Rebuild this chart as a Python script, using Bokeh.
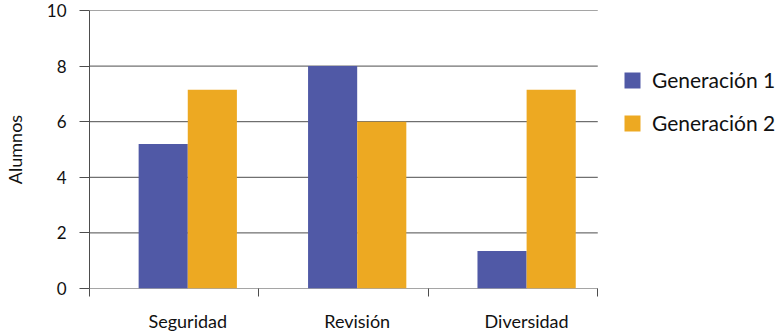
from bokeh.plotting import figure
from bokeh.models import Range1d, FixedTicker, Legend, LegendItem, ColumnDataSource
from bokeh.embed import file_html
from bokeh.resources import INLINE

categories = ["Seguridad", "Revisión", "Diversidad"]
gen1 = [5.2, 8.0, 1.35]
gen2 = [7.15, 6.0, 7.15]
series_names = ["Generación 1", "Generación 2"]
colors = ["#5059a6", "#eda922"]
y_ticks = [0, 2, 4, 6, 8, 10]

FONT = "Lato"
GRID = "#4d4d4d"
TXT = "#111111"

W, H = 783, 334
LEFT, TOP, BOTTOM = 88, 10, 44
PLOT_W = 509  # pixel width of the category area
n = len(categories)
x_end = n * (W - LEFT) / PLOT_W

p = figure(width=W, height=H, output_backend="svg", toolbar_location=None,
           x_range=Range1d(0, x_end), y_range=Range1d(0, 10),
           min_border_left=LEFT, min_border_right=0, min_border_top=TOP, min_border_bottom=BOTTOM)
p.outline_line_color = None
p.xgrid.grid_line_color = None
p.ygrid.grid_line_color = None

# horizontal grid lines limited to the category area
p.segment(x0=[0] * len(y_ticks), x1=[n] * len(y_ticks), y0=y_ticks, y1=y_ticks,
          line_color=GRID, line_width=1)

offset = 0.58
bw = 0.29
idx = list(range(n))
src = ColumnDataSource(dict(
    x1=[i + offset - bw / 2 for i in idx],
    x2=[i + offset + bw / 2 for i in idx],
    g1=gen1, g2=gen2))
r1 = p.vbar(x="x1", top="g1", width=bw, source=src, color=colors[0], line_color=None)
r2 = p.vbar(x="x2", top="g2", width=bw, source=src, color=colors[1], line_color=None)

# x axis
p.xaxis.ticker = FixedTicker(ticks=[i + offset for i in idx], minor_ticks=list(range(n + 1)))
p.xaxis.major_label_overrides = {i + offset: c for i, c in zip(idx, categories)}
p.xaxis.major_tick_out = 0
p.xaxis.major_tick_in = 0
p.xaxis.minor_tick_out = 8
p.xaxis.minor_tick_in = 0
p.xaxis.minor_tick_line_color = GRID
p.xaxis.axis_line_color = None
p.xaxis.major_label_standoff = 13
p.xaxis.major_label_text_font = FONT
p.xaxis.major_label_text_font_size = "18px"
p.xaxis.major_label_text_color = TXT

# y axis
p.yaxis.ticker = FixedTicker(ticks=y_ticks, minor_ticks=[])
p.yaxis.major_tick_out = 10
p.yaxis.major_tick_in = 0
p.yaxis.major_tick_line_color = GRID
p.yaxis.axis_line_color = GRID
p.yaxis.major_label_standoff = 13
p.yaxis.major_label_text_font = FONT
p.yaxis.major_label_text_font_size = "17px"
p.yaxis.major_label_text_color = TXT
p.yaxis.axis_label = "Alumnos"
p.yaxis.axis_label_text_font = FONT
p.yaxis.axis_label_text_font_size = "18px"
p.yaxis.axis_label_text_font_style = "normal"
p.yaxis.axis_label_text_color = TXT
p.yaxis.axis_label_standoff = 18

legend = Legend(items=[LegendItem(label=series_names[0], renderers=[r1]),
                       LegendItem(label=series_names[1], renderers=[r2])],
                location=(533, 153), orientation="vertical")
legend.border_line_color = None
legend.background_fill_alpha = 0
legend.padding = 0
legend.margin = 0
legend.spacing = 18
legend.glyph_width = 20
legend.glyph_height = 20
legend.label_height = 20
legend.label_standoff = 10
legend.label_text_font = FONT
legend.label_text_font_size = "21px"
legend.label_text_color = TXT
p.add_layout(legend)

open("out.html", "w").write(file_html(p, INLINE))
